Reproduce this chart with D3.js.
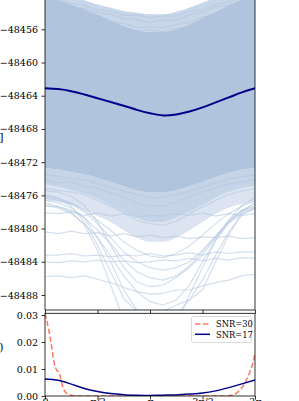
<!DOCTYPE html>
<html>
<head>
<meta charset="utf-8">
<script src="https://cdnjs.cloudflare.com/ajax/libs/d3/7.8.5/d3.min.js"></script>
<style>
  body { margin: 0; background: #fff; }
  svg { display: block; font-family: "DejaVu Serif", serif; }
</style>
</head>
<body>
<div id="playground"></div>
<script>
/*
  data
*/
// phase grid, 0 .. 2pi in steps of pi/8
var phi = [0, 0.3927, 0.7854, 1.1781, 1.5708, 1.9635, 2.3562, 2.7489, 3.1416,
           3.5343, 3.9270, 4.3197, 4.7124, 5.1051, 5.4978, 5.8905, 6.2832];

var phiTicks = [0, 1.5708, 3.1416, 4.7124, 6.2832],
    phiTickLabels = ["0", "π/2", "π", "3π/2", "2π"],
    llTicks = [-48488, -48484, -48480, -48476, -48472, -48468, -48464, -48460, -48456],
    pTicks = [0, 0.01, 0.02, 0.03];

// mean log-likelihood (dark line)
var llMean = [-48463.1, -48463.2, -48463.45, -48463.85, -48464.3, -48464.75, -48465.2, -48465.7, -48466.1,
              -48466.37, -48466.25, -48465.9, -48465.4, -48464.8, -48464.2, -48463.6, -48463.1];

// envelope of the densely overlapping realisations
var outerUpper = [-48451.0, -48451.5, -48452.0, -48452.5, -48453.0, -48453.4, -48453.8, -48454.0, -48454.2,
                  -48454.2, -48453.9, -48453.4, -48452.8, -48452.2, -48451.7, -48451.3, -48451.0];
var coreUpper = [-48452.1, -48452.5, -48453.0, -48453.6, -48454.2, -48454.9, -48455.6, -48456.1, -48456.3,
                 -48456.3, -48456.0, -48455.4, -48454.6, -48453.9, -48453.1, -48452.4, -48451.9];
var coreLower = [-48472.7, -48472.9, -48473.2, -48473.5, -48473.9, -48474.4, -48474.9, -48475.4, -48475.6,
                 -48475.6, -48475.4, -48474.9, -48474.4, -48473.8, -48473.3, -48472.9, -48472.7];
var midLower = [-48474.7, -48475.0, -48475.4, -48475.8, -48476.4, -48477.2, -48478.0, -48478.7, -48479.2,
                -48479.2, -48478.7, -48478.0, -48477.2, -48476.3, -48475.6, -48475.1, -48474.9];
var outerLower = [-48476.6, -48476.8, -48477.2, -48477.8, -48478.5, -48479.2, -48480.2, -48481.1, -48481.6,
                  -48481.6, -48481.1, -48480.2, -48479.2, -48478.2, -48477.5, -48477.0, -48476.8];

// single realisations that stand out at the edges of the cloud
var traces = [
  [-48452.7, -48453.0, -48453.3, -48453.5, -48454.0, -48454.2, -48454.7, -48454.8, -48455.2, -48454.9, -48454.9, -48454.3, -48454.0, -48453.3, -48453.1, -48452.5, -48452.4],
  [-48453.2, -48453.5, -48453.7, -48454.3, -48454.4, -48455.1, -48455.3, -48455.8, -48455.7, -48455.8, -48455.4, -48455.2, -48454.5, -48454.3, -48453.6, -48453.3, -48452.8],
  [-48452.2, -48452.4, -48452.9, -48453.1, -48453.7, -48453.8, -48454.3, -48454.3, -48454.6, -48454.4, -48454.4, -48453.8, -48453.7, -48453.0, -48452.7, -48452.1, -48452.0],
  [-48453.7, -48454.0, -48454.2, -48454.7, -48455.0, -48455.6, -48455.7, -48456.2, -48456.1, -48456.3, -48455.9, -48455.7, -48455.0, -48454.7, -48454.1, -48453.8, -48453.3],
  [-48474.1, -48474.5, -48474.4, -48474.9, -48475.1, -48475.7, -48476.2, -48476.9, -48477.3, -48477.3, -48476.8, -48476.2, -48475.6, -48475.1, -48474.6, -48474.4, -48474.1],
  [-48475.1, -48475.4, -48475.6, -48475.9, -48476.6, -48477.3, -48478.1, -48479.0, -48479.4, -48479.6, -48479.1, -48478.2, -48477.4, -48476.6, -48475.9, -48475.5, -48475.2],
  [-48473.5, -48473.7, -48474.0, -48474.1, -48474.6, -48475.0, -48475.5, -48475.9, -48476.3, -48476.2, -48475.9, -48475.5, -48475.0, -48474.5, -48474.0, -48473.8, -48473.5],
  [-48478.1, -48478.2, -48478.0, -48478.4, -48478.1, -48478.5, -48478.2, -48478.6, -48478.4, -48478.5, -48478.2, -48478.4, -48478.1, -48478.5, -48478.2, -48478.4, -48478.2],
  [-48480.4, -48480.6, -48480.3, -48480.6, -48480.5, -48480.9, -48480.6, -48481.0, -48480.8, -48481.1, -48480.9, -48481.2, -48481.0, -48481.1, -48480.9, -48481.2, -48481.1],
  [-48483.2, -48483.2, -48483.0, -48483.3, -48483.2, -48483.4, -48483.2, -48483.3, -48483.0, -48483.3, -48483.2, -48482.9, -48483.2, -48482.8, -48483.0, -48482.8, -48482.8],
  [-48484.0, -48484.1, -48483.9, -48484.0, -48483.8, -48484.0, -48483.9, -48484.1, -48484.0, -48483.8, -48483.9, -48483.6, -48483.9, -48483.6, -48483.8, -48483.5, -48483.6],
  [-48485.8, -48485.7, -48485.9, -48485.7, -48486.1, -48486.5, -48487.1, -48487.6, -48487.9, -48487.8, -48487.4, -48487.4, -48486.9, -48486.5, -48486.2, -48485.7, -48485.5],
  [-48477.2, -48477.4, -48478.0, -48479.6, -48482.6, -48486.8, -48491.0, -48494.0, -48495.2, -48494.6, -48491.6, -48488.0, -48484.7, -48481.4, -48479.0, -48477.8, -48477.3],
  [-48476.6, -48476.9, -48477.5, -48478.7, -48481.1, -48484.0, -48487.4, -48489.8, -48491.0, -48491.2, -48490.4, -48488.6, -48486.2, -48483.2, -48480.4, -48478.4, -48477.5],
  [-48475.4, -48475.6, -48476.1, -48477.2, -48479.2, -48482.0, -48484.7, -48486.4, -48487.0, -48486.8, -48485.9, -48484.7, -48483.2, -48481.1, -48479.0, -48477.2, -48476.3],
  [-48475.9, -48476.3, -48477.3, -48479.2, -48482.0, -48485.2, -48488.4, -48490.0, -48490.5, -48490.0, -48489.2, -48488.6, -48487.4, -48484.0, -48480.8, -48478.0, -48476.9],
  [-48476.3, -48476.6, -48477.0, -48478.0, -48479.4, -48481.1, -48482.8, -48484.0, -48484.7, -48485.0, -48484.7, -48484.0, -48482.6, -48480.9, -48479.2, -48477.8, -48477.0],
  [-48476.1, -48476.4, -48476.9, -48477.8, -48479.0, -48480.2, -48481.6, -48482.6, -48483.3, -48483.5, -48483.0, -48482.1, -48480.8, -48479.4, -48478.2, -48477.3, -48476.7],
  [-48477.2, -48477.5, -48478.2, -48479.4, -48481.1, -48483.3, -48485.7, -48487.6, -48488.8, -48489.2, -48488.6, -48486.8, -48484.0, -48481.4, -48479.4, -48478.2, -48477.6],
  [-48476.9, -48477.3, -48477.8, -48478.7, -48480.2, -48481.8, -48483.8, -48485.2, -48485.9, -48486.2, -48485.7, -48484.5, -48482.8, -48480.9, -48479.2, -48478.0, -48477.4]
];

// phase posteriors, lower panel
var phi30 = [0, 0.05, 0.13, 0.20, 0.25, 0.30, 0.35, 0.43, 0.50, 0.60, 0.75, 1.05, 1.5708, 3.1416,
             4.7124, 5.38, 5.63, 5.83, 5.98, 6.13, 6.23, 6.2832];
var p30 = [0.0306, 0.0281, 0.0232, 0.0183, 0.0140, 0.0109, 0.0096, 0.0084, 0.0047, 0.0016, 0.0004, 0.0000, 0.0000, 0.0000,
           0.0000, 0.0000, 0.0004, 0.0022, 0.0047, 0.0090, 0.0127, 0.0158];
var p17 = [0.0063, 0.0058, 0.0044, 0.0028, 0.0017, 0.0009, 0.0005, 0.0003, 0.0002,
           0.0003, 0.0004, 0.0007, 0.0011, 0.0019, 0.0031, 0.0045, 0.0059];
var seriesNames = ["SNR=30", "SNR=17"];

/*
  svg and scales
*/
var W = 299, H = 401,
    left = 45, right = 255,
    topBottom = 310, botTop = 313.3, botBottom = 396;

var svg = d3.select('#playground').append('svg')
    .attr('width', W).attr('height', H);

var x = d3.scaleLinear().domain([0, 6.2832]).range([left, right]);
var yTop = d3.scaleLinear().domain([-48488, -48456]).range([295, 29.3]);
var yBot = d3.scaleLinear().domain([0, 0.03]).range([botBottom, 315]);

svg.append('clipPath').attr('id', 'clipTop')
  .append('rect').attr('x', left).attr('y', -60).attr('width', right - left).attr('height', topBottom + 60);
svg.append('clipPath').attr('id', 'clipBot')
  .append('rect').attr('x', left).attr('y', botTop).attr('width', right - left).attr('height', botBottom - botTop);

/*
  top panel
*/
var gTop = svg.append('g').attr('clip-path', 'url(#clipTop)');

function band(upper, lower) {
  return d3.area()
    .x(function(d, i) { return x(phi[i]); })
    .y0(function(d, i) { return yTop(lower[i]); })
    .y1(function(d, i) { return yTop(upper[i]); })
    .curve(d3.curveMonotoneX)(phi);
}

gTop.append('path').attr('d', band(outerUpper, coreUpper)).attr('fill', '#c8d6e9');
gTop.append('path').attr('d', band(midLower, outerLower)).attr('fill', '#dbe4f0');
gTop.append('path').attr('d', band(coreLower, midLower)).attr('fill', '#c6d4e8');
gTop.append('path').attr('d', band(coreUpper, coreLower)).attr('fill', '#b0c4de');

var traceLine = d3.line()
  .x(function(d, i) { return x(phi[i]); })
  .y(function(d) { return yTop(d); });

gTop.selectAll('path.trace').data(traces).enter()
  .append('path').attr('class', 'trace')
    .attr('d', traceLine)
    .attr('fill', 'none')
    .attr('stroke', '#b0c4de')
    .attr('stroke-opacity', 0.55)
    .attr('stroke-width', 1.2);

gTop.append('path')
  .attr('d', traceLine.curve(d3.curveCatmullRom)(llMean))
  .attr('fill', 'none')
  .attr('stroke', '#00008b')
  .attr('stroke-width', 2);

// axes of the top panel
svg.append('g').attr('transform', 'translate(' + left + ',0)')
  .call(d3.axisLeft(yTop).tickValues(llTicks).tickSize(3.5).tickPadding(3.5)
        .tickFormat(function(d) { return '\u2212' + Math.abs(d); }));
svg.append('g').attr('transform', 'translate(0,' + topBottom + ')')
  .call(d3.axisBottom(x).tickValues(phiTicks).tickSize(3.5).tickFormat(''));

svg.append('line').attr('x1', left).attr('x2', left).attr('y1', 0).attr('y2', topBottom);
svg.append('line').attr('x1', right).attr('x2', right).attr('y1', 0).attr('y2', topBottom);
svg.append('line').attr('x1', left).attr('x2', right).attr('y1', topBottom).attr('y2', topBottom);

/*
  bottom panel
*/
var gBot = svg.append('g').attr('clip-path', 'url(#clipBot)');

gBot.append('path')
  .attr('d', d3.line().x(function(d, i) { return x(phi30[i]); }).y(function(d) { return yBot(d); })
          .curve(d3.curveMonotoneX)(p30))
  .attr('fill', 'none')
  .attr('stroke', '#ff6347')
  .attr('stroke-opacity', 0.85)
  .attr('stroke-width', 1.5)
  .attr('stroke-dasharray', '5.5,2.4');

gBot.append('path')
  .attr('d', d3.line().x(function(d, i) { return x(phi[i]); }).y(function(d) { return yBot(d); })
          .curve(d3.curveMonotoneX)(p17))
  .attr('fill', 'none')
  .attr('stroke', '#00008b')
  .attr('stroke-width', 1.5);

svg.append('g').attr('transform', 'translate(' + left + ',0)')
  .call(d3.axisLeft(yBot).tickValues(pTicks).tickSize(3.5).tickPadding(3.5).tickFormat(d3.format('.2f')));
// phase labels sit just below the window edge, as in the original crop
svg.append('g').attr('transform', 'translate(0,' + botBottom + ')')
  .call(d3.axisBottom(x).tickValues(phiTicks).tickSize(3.5).tickPadding(-1)
        .tickFormat(function(d, i) { return phiTickLabels[i]; }));

svg.append('rect')
  .attr('x', left).attr('y', botTop).attr('width', right - left).attr('height', botBottom - botTop)
  .attr('fill', 'none').attr('stroke', '#000').attr('stroke-width', 0.8);

// legend
var leg = svg.append('g').attr('transform', 'translate(191.5,316.5)');
leg.append('rect').attr('width', 60).attr('height', 26).attr('rx', 2)
  .attr('fill', '#fff').attr('fill-opacity', 0.8).attr('stroke', '#d0d0d0').attr('stroke-width', 0.8);
leg.selectAll('line.key').data(seriesNames).enter().append('line').attr('class', 'key')
  .attr('x1', 3.5).attr('x2', 18.5)
  .attr('y1', function(d, i) { return 7.5 + i * 10.3; })
  .attr('y2', function(d, i) { return 7.5 + i * 10.3; })
  .attr('stroke', function(d, i) { return i == 0 ? '#ff6347' : '#00008b'; })
  .attr('stroke-opacity', function(d, i) { return i == 0 ? 0.85 : 1; })
  .attr('stroke-width', 1.5)
  .attr('stroke-dasharray', function(d, i) { return i == 0 ? '5.5,2.4' : null; });
leg.selectAll('text').data(seriesNames).enter().append('text')
  .attr('x', 24.5)
  .attr('y', function(d, i) { return 10.8 + i * 10.3; })
  .attr('font-size', 8.3)
  .text(function(d) { return d; });

// axis labels, mostly off the left edge
svg.append('text').attr('x', 3.5).attr('y', 141).attr('text-anchor', 'end')
  .attr('font-size', 11).text('ln L [nats]');
svg.append('text').attr('x', 3.5).attr('y', 351).attr('text-anchor', 'end')
  .attr('font-size', 11).text('p(φ)');

// common styling of ticks and labels
svg.selectAll('.domain').remove();
svg.selectAll('.tick line').attr('stroke', '#000').attr('stroke-width', 0.8);
svg.selectAll('.tick text').attr('font-family', '"DejaVu Serif", serif').attr('font-size', 9.5).attr('fill', '#000');
svg.selectAll('svg > line').attr('stroke', '#000').attr('stroke-width', 0.8);
</script>
</body>
</html>
